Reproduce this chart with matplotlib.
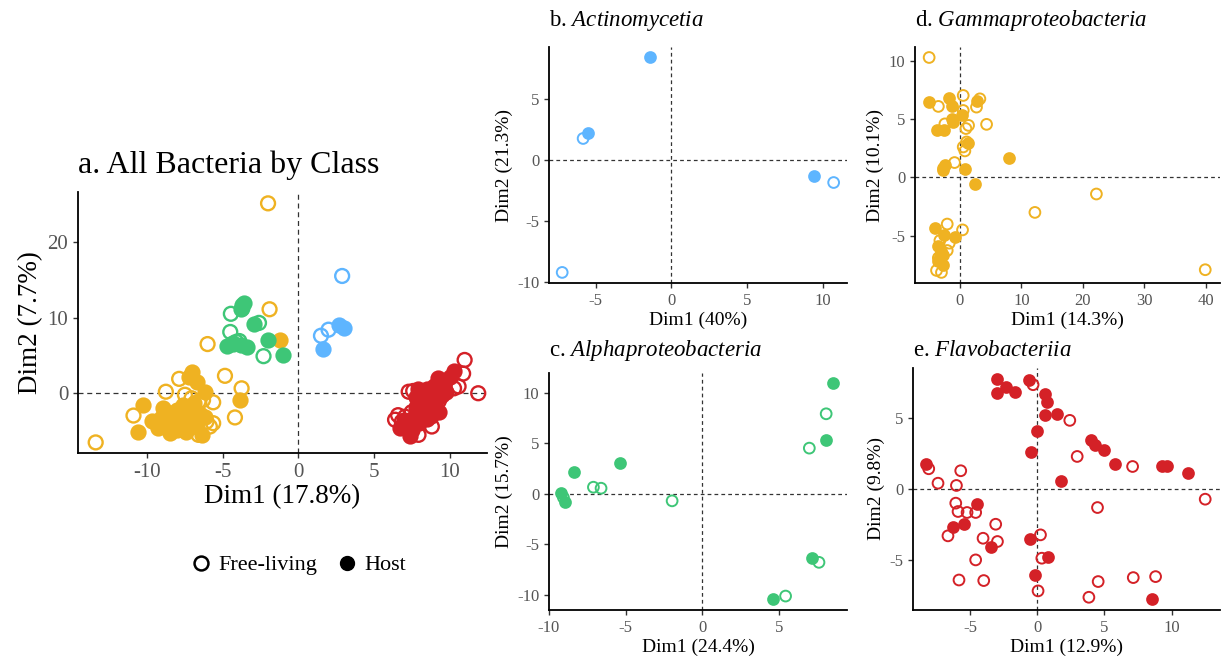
import matplotlib
matplotlib.use("Agg")
import matplotlib.pyplot as plt
from matplotlib.lines import Line2D

plt.rcParams['font.family'] = ['Liberation Serif', 'DejaVu Serif']
plt.rcParams['mathtext.fontset'] = 'custom'
plt.rcParams['mathtext.rm'] = 'Liberation Serif'
plt.rcParams['mathtext.it'] = 'Liberation Serif:italic'
plt.rcParams['axes.unicode_minus'] = False

# class colours
col_gamma = '#EFB222'
col_alpha = '#3EC677'
col_actino = '#5EB5FF'
col_flavo = '#D42127'

# ---- a. all bacteria (Dim1 17.8%, Dim2 7.7%) ----
a_gamma_free_x = [-13.4, -10.9, -8.76, -7.88, -4.85, -3.75, -5.63, -4.19, -7.5, -7.06, -6.6, -6.3,
                  -6.07, -5.63, -5.85, -6.6, -6.0, -1.9, -2.0, -8.0, -7.3]
a_gamma_free_y = [-6.5, -2.95, 0.2, 1.9, 2.3, 0.65, -1.2, -3.2, -0.2, -0.66, -1.1, -0.9,
                  -3.75, -3.96, -4.4, -5.5, 6.5, 11.1, 25.1, -3.3, -4.2]
a_gamma_host_x = [-7.06, -6.73, -6.18, -3.86, -10.26, -9.7, -10.6, -8.94, -8.5, -8.05, -7.72, -7.28,
                  -6.95, -8.7, -8.05, -7.4, -6.73, -6.4, -8.2, -9.05, -8.5, -7.17, -7.6, -1.2,
                  -7.2, -6.9, -6.5, -7.8, -9.3, -6.2]
a_gamma_host_y = [2.85, 1.5, 0.2, -0.9, -1.5, -3.7, -5.1, -2.0, -2.6, -2.2, -3.1, -2.6,
                  -3.75, -4.4, -4.85, -5.1, -4.4, -5.5, -3.5, -3.3, -5.3, -2.0, -1.5, 7.0,
                  2.1, -1.3, -2.8, -4.0, -4.6, -3.2]
a_alpha_free_x = [-4.46, -3.7, -2.6, -4.5, -4.1, -2.3, -4.3, -3.9]
a_alpha_free_y = [10.5, 11.2, 9.3, 8.1, 6.8, 4.9, 6.6, 6.9]
a_alpha_host_x = [-3.8, -3.6, -3.7, -2.9, -4.7, -4.3, -3.4, -3.8, -2.0, -1.0]
a_alpha_host_y = [11.2, 11.9, 11.6, 9.1, 6.3, 6.5, 6.1, 6.4, 7.1, 5.1]
a_actino_free_x = [2.9, 1.5, 2.0]
a_actino_free_y = [15.5, 7.6, 8.4]
a_actino_host_x = [1.66, 2.7, 3.0]
a_actino_host_y = [5.8, 9.0, 8.6]
a_flavo_free_x = [11.0, 10.9, 10.6, 10.3, 11.9, 7.3, 6.6, 6.4, 6.85, 7.07, 7.95, 8.83, 7.6,
                  9.3, 8.0, 7.5, 9.6, 8.5]
a_flavo_free_y = [4.4, 2.6, 0.9, 0.65, 0.0, 0.2, -2.9, -3.5, -3.75, -3.1, -5.5, -4.4, 0.3,
                  -1.0, -3.0, -2.5, 1.2, -1.8]
a_flavo_host_x = [10.3, 10.05, 9.27, 9.6, 9.0, 8.5, 8.0, 8.7, 9.2, 7.8, 8.3, 9.0, 8.6, 7.8, 8.2,
                  9.3, 7.6, 8.5, 7.2, 8.0, 7.5, 6.73, 7.4, 8.8, 9.5, 7.9, 8.9, 9.8, 7.0]
a_flavo_host_y = [2.9, 2.2, 2.0, 1.5, 1.0, 0.5, 0.0, -0.3, -0.8, -0.5, -1.2, -1.6, -2.2, -1.8, -2.6,
                  -2.5, -3.3, -3.4, -4.0, -4.0, -4.8, -4.6, -5.7, -3.0, -0.2, 0.6, 0.4, 0.2, -3.6]

# ---- b. Actinomycetia (Dim1 40%, Dim2 21.3%) ----
b_free_x = [-5.82, 10.7, -7.2]
b_free_y = [1.78, -1.84, -9.23]
b_host_x = [-1.43, -5.49, 9.41]
b_host_y = [8.49, 2.19, -1.29]

# ---- c. Alphaproteobacteria (Dim1 24.4%, Dim2 15.7%) ----
c_free_x = [8.1, 7.0, -7.1, -6.6, -9.06, -1.96, 7.63, 5.45]
c_free_y = [7.93, 4.53, 0.66, 0.56, -0.36, -0.69, -6.78, -10.12]
c_host_x = [8.54, 8.1, -5.34, -8.4, -9.2, -8.93, 7.15, 4.66]
c_host_y = [10.98, 5.29, 3.04, 2.15, 0.07, -0.83, -6.38, -10.45]

# ---- d. Gammaproteobacteria (Dim1 14.3%, Dim2 10.1%) ----
d_free_x = [-5.0, -3.5, 0.54, 0.54, -2.44, 0.98, 1.41, 2.7, 3.25, 4.34, 1.1, 0.54, 0.81, -0.87,
            12.2, 22.2, 39.9, 0.43, -2.06, -1.73, -3.25, -2.06, -3.8, -3.0, -3.5]
d_free_y = [10.3, 6.1, 7.04, 5.75, 4.6, 4.2, 4.47, 6.04, 6.75, 4.56, 3.05, 2.62, 2.28, 1.28,
            -3.0, -1.42, -7.92, -4.5, -4.0, -5.64, -5.41, -6.27, -7.98, -8.15, -6.9]
d_host_x = [-5.0, -1.73, -1.36, 0.27, -1.36, -1.08, -3.7, -2.6, 2.8, 1.36, -2.7, -2.44, -2.8, 0.87,
            2.44, 8.0, -4.07, -2.6, -0.81, -3.5, -3.0, -3.25, -2.7, -3.5, -2.8]
d_host_y = [6.47, 6.84, 6.1, 5.33, 5.04, 4.76, 4.1, 4.1, 6.55, 2.96, 0.77, 1.05, 0.63, 0.71,
            -0.6, 1.71, -4.36, -4.93, -5.13, -5.9, -6.35, -6.78, -6.64, -7.2, -7.5]

# ---- e. Flavobacteriia (Dim1 12.9%, Dim2 9.8%) ----
e_free_x = [-0.3, 2.43, 2.98, 7.1, -8.06, -7.37, -5.68, -6.0, -6.05, -5.88, -5.21, -4.57, -3.08,
            -6.63, -4.02, -2.95, -4.57, -5.81, -3.97, 0.25, 0.35, 0.07, 4.49, 12.5, 4.54, 7.15,
            8.81, 3.85]
e_free_y = [7.38, 4.86, 2.31, 1.6, 1.44, 0.42, 1.3, 0.26, -0.99, -1.58, -1.65, -1.65, -2.48,
            -3.3, -3.47, -3.7, -5.0, -6.42, -6.46, -3.23, -4.88, -7.19, -1.3, -0.71, -6.53, -6.25,
            -6.18, -7.64]
e_host_x = [-2.98, -2.98, -2.28, -1.64, -0.6, 0.62, 0.77, 0.62, 1.49, 0.02, -0.47, 4.04, 4.29, 4.99,
            5.78, 9.26, 9.63, 11.24, 1.76, -8.24, -4.5, -6.25, -5.46, -3.45, -0.55, 0.84, -0.17, 8.54]
e_host_y = [7.78, 6.79, 7.19, 6.86, 7.74, 6.72, 6.13, 5.26, 5.31, 4.13, 2.59, 3.49, 3.14, 2.78,
            1.77, 1.6, 1.6, 1.13, 0.59, 1.77, -1.06, -2.69, -2.45, -4.06, -3.51, -4.76, -6.08, -7.74]

W, H = 1222, 656
fig = plt.figure(figsize=(W / 100, H / 100), dpi=100)


def px_axes(left, top, right, bottom):
    return fig.add_axes([left / W, 1 - bottom / H, (right - left) / W, (bottom - top) / H])


def style(ax, xlim, ylim, xticks, yticks, xlabel, ylabel, tick_fs, lab_fs, dash):
    ax.set_xlim(*xlim)
    ax.set_ylim(*ylim)
    ax.set_xticks(xticks)
    ax.set_yticks(yticks)
    ax.axhline(0, color='#333333', lw=0.9, ls=dash, zorder=1)
    ax.axvline(0, color='#333333', lw=0.9, ls=dash, zorder=1)
    for s in ['top', 'right']:
        ax.spines[s].set_visible(False)
    for s in ['left', 'bottom']:
        ax.spines[s].set_linewidth(1.3)
    ax.tick_params(labelsize=tick_fs, labelcolor='#555555', color='#333333', length=3.5, width=1)
    ax.set_xlabel(xlabel, fontsize=lab_fs, labelpad=2)
    ax.set_ylabel(ylabel, fontsize=lab_fs, labelpad=3)


def pts(ax, fx, fy, hx, hy, color, s, lw):
    ax.scatter(hx, hy, s=s, color=color, edgecolor=color, linewidths=lw, zorder=3)
    ax.scatter(fx, fy, s=s, facecolor='none', edgecolor=color, linewidths=lw, zorder=3)


# panel a
ax = px_axes(78, 192, 487, 453)
style(ax, (-14.57, 12.48), (-7.9, 26.6), [-10, -5, 0, 5, 10], [0, 10, 20],
      'Dim1 (17.8%)', 'Dim2 (7.7%)', 15, 19.5, (0, (4, 3)))
pts(ax, a_gamma_free_x, a_gamma_free_y, a_gamma_host_x, a_gamma_host_y, col_gamma, 100, 1.7)
pts(ax, a_alpha_free_x, a_alpha_free_y, a_alpha_host_x, a_alpha_host_y, col_alpha, 100, 1.7)
pts(ax, a_actino_free_x, a_actino_free_y, a_actino_host_x, a_actino_host_y, col_actino, 100, 1.7)
pts(ax, a_flavo_free_x, a_flavo_free_y, a_flavo_host_x, a_flavo_host_y, col_flavo, 100, 1.7)
ax.set_title('a. All Bacteria by Class', fontsize=23, loc='left', x=0.0, pad=14)

sub = dict(tick_fs=12, lab_fs=14, dash=(0, (3, 2.5)))

# panel b
ax = px_axes(549, 47, 847, 283)
style(ax, (-8.07, 11.58), (-10.1, 9.3), [-5, 0, 5, 10], [-10, -5, 0, 5],
      'Dim1 (40%)', 'Dim2 (21.3%)', **sub)
pts(ax, b_free_x, b_free_y, b_host_x, b_host_y, col_actino, 60, 1.4)
ax.set_title(r'b. $\mathit{Actinomycetia}$', fontsize=16.5, loc='left', pad=15)

# panel c
ax = px_axes(549, 373, 847, 610)
style(ax, (-10.0, 9.46), (-11.5, 11.97), [-10, -5, 0, 5], [-10, -5, 0, 5, 10],
      'Dim1 (24.4%)', 'Dim2 (15.7%)', **sub)
pts(ax, c_free_x, c_free_y, c_host_x, c_host_y, col_alpha, 60, 1.4)
ax.set_title(r'c. $\mathit{Alphaproteobacteria}$', fontsize=16.5, loc='left', pad=12)

# panel d
ax = px_axes(915, 47, 1220, 283)
style(ax, (-7.3, 42.3), (-9.06, 11.2), [0, 10, 20, 30, 40], [-5, 0, 5, 10],
      'Dim1 (14.3%)', 'Dim2 (10.1%)', **sub)
pts(ax, d_free_x, d_free_y, d_host_x, d_host_y, col_gamma, 60, 1.4)
ax.set_title(r'd. $\mathit{Gammaproteobacteria}$', fontsize=16.5, loc='left', pad=15)

# panel e
ax = px_axes(913, 368, 1220, 610)
style(ax, (-9.23, 13.6), (-8.54, 8.56), [-5, 0, 5, 10], [-5, 0, 5],
      'Dim1 (12.9%)', 'Dim2 (9.8%)', **sub)
pts(ax, e_free_x, e_free_y, e_host_x, e_host_y, col_flavo, 60, 1.4)
ax.set_title(r'e. $\mathit{Flavobacteriia}$', fontsize=16.5, loc='left', pad=9)

handles = [Line2D([], [], ls='', marker='o', ms=10, mfc='none', mec='black', mew=1.8, label='Free-living'),
           Line2D([], [], ls='', marker='o', ms=10, mfc='black', mec='black', label='Host')]
fig.legend(handles=handles, loc='center', bbox_to_anchor=(298 / W, 1 - 565 / H), ncol=2,
           frameon=False, fontsize=16, handlelength=1.0, handletextpad=0.3, columnspacing=0.8)

fig.savefig('out.png', dpi=100)
